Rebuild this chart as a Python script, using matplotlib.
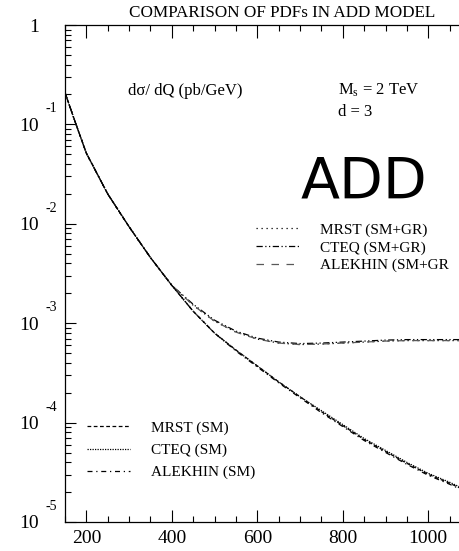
import numpy as np
import matplotlib
matplotlib.use("Agg")
from matplotlib import pyplot as plt
from matplotlib.ticker import FixedLocator, FixedFormatter, LogLocator, MultipleLocator, NullFormatter

plt.rcParams['font.family'] = ['Liberation Serif', 'DejaVu Serif']
plt.rcParams['mathtext.fontset'] = 'custom'
plt.rcParams['mathtext.rm'] = 'Liberation Serif'
plt.rcParams['mathtext.it'] = 'Liberation Serif:italic'

# dilepton invariant mass Q (GeV)
Q = [150, 175, 200, 250, 300, 350, 400, 450, 500, 550, 600, 650, 700,
     750, 800, 850, 900, 950, 1000, 1050, 1075]

# log10 of d sigma / dQ (pb/GeV)
sm_mrst = [-0.68, -0.99, -1.29, -1.70, -2.03, -2.34, -2.62, -2.88, -3.10, -3.27,
           -3.43, -3.59, -3.74, -3.89, -4.03, -4.17, -4.29, -4.41, -4.52, -4.61, -4.66]
sm_cteq = [-0.68, -0.99, -1.29, -1.70, -2.03, -2.34, -2.62, -2.88, -3.10, -3.27,
           -3.43, -3.59, -3.74, -3.88, -4.02, -4.16, -4.28, -4.40, -4.51, -4.60, -4.65]
sm_alekhin = [-0.68, -0.99, -1.29, -1.70, -2.03, -2.34, -2.62, -2.88, -3.10, -3.28,
              -3.44, -3.60, -3.75, -3.90, -4.04, -4.18, -4.30, -4.42, -4.53, -4.62, -4.67]

gr_mrst = [-0.68, -0.99, -1.29, -1.70, -2.03, -2.34, -2.62, -2.82, -2.98, -3.09,
           -3.16, -3.20, -3.215, -3.21, -3.20, -3.19, -3.18, -3.175, -3.175, -3.175, -3.175]
gr_cteq = [-0.68, -0.99, -1.29, -1.70, -2.03, -2.34, -2.62, -2.81, -2.97, -3.08,
           -3.15, -3.19, -3.205, -3.20, -3.19, -3.18, -3.17, -3.165, -3.165, -3.165, -3.165]
gr_alekhin = [-0.68, -0.99, -1.29, -1.70, -2.03, -2.34, -2.62, -2.82, -2.98, -3.09,
              -3.16, -3.20, -3.215, -3.21, -3.20, -3.19, -3.18, -3.175, -3.175, -3.175, -3.175]

ytick_vals = [1e-5, 1e-4, 1e-3, 1e-2, 1e-1, 1]
ytick_labels = ['10', '10', '10', '10', '10', '1']
ytick_exps = ['-5', '-4', '-3', '-2', '-1', '']
xtick_vals = [200, 400, 600, 800, 1000]

W, H = 459, 551
fig = plt.figure(figsize=(W/100, H/100), dpi=100)
ax = fig.add_axes([65/W, 29/H, 406/W, 497/H])

lw = 0.9
q = np.array(Q)
l1, = ax.plot(q, 10**np.array(gr_mrst), color='k', lw=lw, ls=(0, (1, 3)))
l2, = ax.plot(q, 10**np.array(gr_cteq), color='k', lw=lw, ls=(0, (5, 2, 1, 2, 1, 2)))
l3, = ax.plot(q, 10**np.array(gr_alekhin), color='0.35', lw=lw, ls=(0, (6, 6)))
s1, = ax.plot(q, 10**np.array(sm_mrst), color='k', lw=lw, ls=(0, (3, 2)))
s2, = ax.plot(q, 10**np.array(sm_cteq), color='k', lw=lw, ls=(0, (1, 1)))
s3, = ax.plot(q, 10**np.array(sm_alekhin), color='k', lw=lw, ls=(0, (4, 3, 1, 3)))

ax.set_yscale('log')
ax.set_xlim(150, 1100)
ax.set_ylim(1e-5, 1)

ax.xaxis.set_major_locator(FixedLocator(xtick_vals))
ax.xaxis.set_minor_locator(MultipleLocator(50))
ax.yaxis.set_major_locator(FixedLocator(ytick_vals))
ax.yaxis.set_major_formatter(FixedFormatter(ytick_labels))
ax.yaxis.set_minor_locator(LogLocator(base=10, subs=np.arange(2, 10)))
ax.yaxis.set_minor_formatter(NullFormatter())

ax.tick_params(which='both', direction='in', top=True, right=False, width=0.8)
ax.tick_params(axis='x', which='major', length=9, labelsize=14, pad=6)
ax.tick_params(axis='x', which='minor', length=4.5)
ax.tick_params(axis='y', which='major', length=8, labelsize=14, pad=19)
ax.tick_params(axis='y', which='minor', length=4)
for sp in ax.spines.values():
    sp.set_linewidth(0.9)
ax.spines['right'].set_visible(False)

# raised exponents next to the "10" labels
for v, e in zip(ytick_vals, ytick_exps):
    if e:
        ax.annotate(e, xy=(0, v), xycoords=('axes fraction', 'data'),
                    xytext=(-20, 9), textcoords='offset pixels',
                    ha='left', va='bottom', fontsize=10)

leg1 = ax.legend([l1, l2, l3], ['MRST (SM+GR)', 'CTEQ (SM+GR)', 'ALEKHIN (SM+GR'],
                 loc='upper left', bbox_to_anchor=(256/W, 1 - 223/H),
                 bbox_transform=fig.transFigure, frameon=False, fontsize=11,
                 handlelength=2.8, handletextpad=1.4, labelspacing=0.25,
                 borderpad=0, borderaxespad=0)
ax.add_artist(leg1)
ax.legend([s1, s2, s3], ['MRST (SM)', 'CTEQ (SM)', 'ALEKHIN (SM)'],
          loc='upper left', bbox_to_anchor=(87/W, 1 - 421/H),
          bbox_transform=fig.transFigure, frameon=False, fontsize=11,
          handlelength=2.8, handletextpad=1.4, labelspacing=0.55,
          borderpad=0, borderaxespad=0)

fig.text(282/W, 1 - 13/H, 'COMPARISON OF PDFs IN ADD MODEL', ha='center', va='center', fontsize=12.3)
fig.text(128/W, 1 - 95/H, 'd\u03c3/ dQ (pb/GeV)', ha='left', va='baseline', fontsize=12)
fig.text(338/W, 1 - 95/H, r'M$_{\rm s}$ = 2 TeV', ha='left', va='baseline', fontsize=12)
fig.text(338/W, 1 - 116/H, 'd = 3', ha='left', va='baseline', fontsize=12)
fig.text(301/W, 1 - 198/H, 'ADD', ha='left', va='baseline', fontsize=41, family='DejaVu Sans')

fig.savefig('out.png', dpi=100)
